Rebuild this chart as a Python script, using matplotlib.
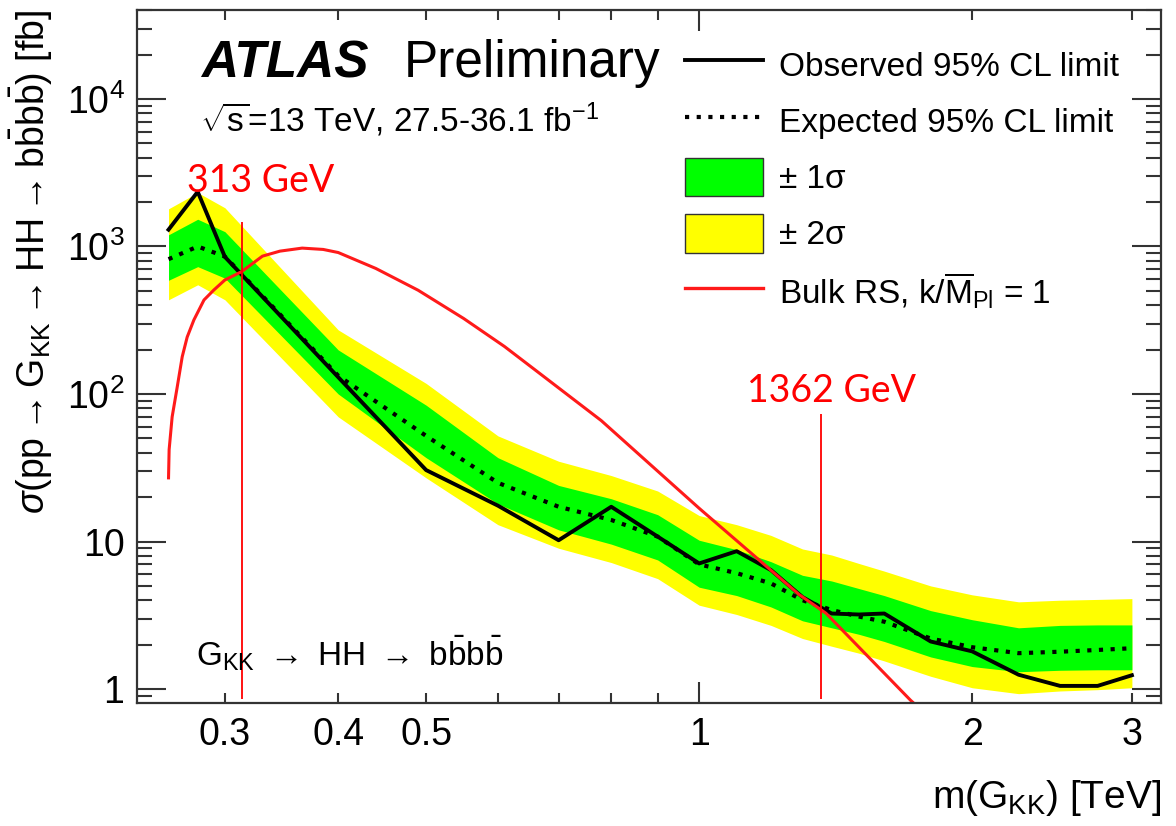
import numpy as np
import matplotlib.pyplot as plt
from matplotlib.lines import Line2D
from matplotlib.patches import Patch
from matplotlib.ticker import FixedLocator, FuncFormatter, NullFormatter

plt.rcParams['font.family'] = ['Liberation Sans', 'DejaVu Sans']
plt.rcParams['mathtext.fontset'] = 'custom'
plt.rcParams['mathtext.rm'] = 'Liberation Sans'
plt.rcParams['mathtext.it'] = 'Liberation Sans:italic'
plt.rcParams['mathtext.bf'] = 'Liberation Sans:bold'

# graviton mass points [TeV]
mass = [0.26, 0.28, 0.30, 0.40, 0.50, 0.60, 0.70, 0.80, 0.90, 1.00, 1.10,
        1.20, 1.30, 1.40, 1.50, 1.60, 1.80, 2.00, 2.25, 2.50, 2.75, 3.00]
observed = [1300, 2350, 850, 130, 30.5, 17.5, 10.2, 17.2, 10.8, 7.1, 8.6,
            6.4, 4.2, 3.25, 3.2, 3.25, 2.1, 1.8, 1.25, 1.05, 1.05, 1.24]
expected = [820, 1000, 855, 133, 52, 25, 17.2, 14.0, 10.8, 7.0, 6.1,
            5.2, 4.0, 3.43, 3.1, 2.86, 2.2, 1.92, 1.75, 1.79, 1.84, 1.89]
sig1_dn = [590, 730, 610, 100, 37, 18, 12, 9.6, 7.5, 4.9, 4.3,
           3.6, 2.9, 2.6, 2.35, 2.1, 1.65, 1.42, 1.31, 1.34, 1.35, 1.35]
sig1_up = [1200, 1530, 1260, 199, 84, 37, 24, 19.5, 15.2, 10.2, 8.8,
           7.3, 5.9, 5.4, 4.8, 4.3, 3.4, 2.95, 2.6, 2.7, 2.72, 2.72]
sig2_dn = [435, 550, 435, 70, 27, 13, 9.0, 7.2, 5.6, 3.7, 3.2,
           2.7, 2.2, 1.95, 1.75, 1.55, 1.22, 1.02, 0.93, 0.97, 0.99, 1.02]
sig2_up = [1800, 2320, 1830, 272, 118, 52, 35, 28, 22, 15, 13,
           11, 8.9, 8.1, 7.1, 6.3, 5.0, 4.35, 3.9, 4.0, 4.05, 4.1]

# Bulk RS theory curve, k/M_Pl = 1
rs_mass = [0.26, 0.2604, 0.2624, 0.2657, 0.2692, 0.2726, 0.2773, 0.2845,
           0.2917, 0.30, 0.313, 0.33, 0.345, 0.365, 0.385, 0.40, 0.44,
           0.49, 0.55, 0.61, 0.66, 0.78, 0.90, 1.00, 1.29, 1.38, 1.71, 1.80]
rs_xsec = [27, 42, 70, 110, 179, 243, 318, 434, 507, 593, 675, 860, 930,
           975, 955, 910, 710, 505, 325, 210, 145, 66, 30, 16.8, 4.35, 3.26,
           0.84, 0.63]

# red markers: crossing points
excl_mass = [0.313, 1.362]
excl_top = [1470, 73]
excl_text_pos = [(0.2726, 2340), (1.129, 88)]

fig = plt.figure(figsize=(11.76, 8.26), dpi=100)
ax = fig.add_axes([137 / 1176, 1 - 703 / 826, 1024 / 1176, 693 / 826])

ax.fill_between(mass, sig2_dn, sig2_up, color='#ffff00', lw=0)
ax.fill_between(mass, sig1_dn, sig1_up, color='#00ff00', lw=0)
ax.plot(mass, expected, color='black', lw=3, ls=(0, (1, 1.8)))
ax.plot(mass, observed, color='black', lw=2.8)
ax.plot(rs_mass, rs_xsec, color='#ff1a1a', lw=2.2)
ax.vlines(excl_mass, 0.85, excl_top, color='red', lw=1.3)
for m, (tx, ty) in zip(excl_mass, excl_text_pos):
    ax.text(tx, ty, f"{m * 1000:.0f} GeV", color='red', fontsize=27,
            family='Lato', va='baseline', ha='left')

ax.set_xscale('log')
ax.set_yscale('log')
ax.set_xlim(0.240, 3.23)
ax.set_ylim(0.804, 40100)

# ROOT style ticks
ax.xaxis.set_major_locator(FixedLocator([1]))
ax.xaxis.set_minor_locator(FixedLocator([0.3, 0.4, 0.5, 0.6, 0.7, 0.8, 0.9, 2, 3]))
ax.xaxis.set_major_formatter(FuncFormatter(lambda v, p: "1"))
ax.xaxis.set_minor_formatter(
    FuncFormatter(lambda v, p: f"{v:g}" if v in (0.3, 0.4, 0.5, 2, 3) else ""))
ydec = [1, 10, 100, 1000, 10000]
ax.yaxis.set_major_locator(FixedLocator(ydec))
ax.yaxis.set_minor_locator(FixedLocator(
    [d * k for d in [0.1] + ydec for k in range(2, 10)]))
ax.yaxis.set_major_formatter(FuncFormatter(
    lambda v, p: {1: "1", 10: "10"}.get(int(round(v)), f"$10^{{{int(round(np.log10(v)))}}}$")))
ax.yaxis.set_minor_formatter(NullFormatter())

ax.tick_params(which='both', direction='in', top=True, right=True,
               width=1.5, color='#333333', labelsize=27)
ax.tick_params(axis='x', which='major', length=15, pad=10)
ax.tick_params(axis='x', which='minor', length=7, pad=10)
ax.tick_params(axis='y', which='major', length=21, pad=9)
ax.tick_params(axis='y', which='minor', length=11, pad=9)
for s in ax.spines.values():
    s.set_linewidth(1.6)
    s.set_color('#333333')

ax.set_xlabel(r"m(G$_{\mathrm{KK}}$) [TeV]", fontsize=28, loc='right', labelpad=18)
ax.set_ylabel(r"$\sigma(\mathrm{pp}\rightarrow\mathrm{G}_{\mathrm{KK}}\rightarrow"
              r"\mathrm{HH}\rightarrow\mathrm{b\bar{b}b\bar{b}})$ [fb]",
              fontsize=27, loc='top', labelpad=8)

fig.text(201 / 1176, 1 - 77 / 826, "ATLAS", fontsize=37, weight='bold',
         style='italic')
fig.text(404 / 1176, 1 - 77 / 826, "Preliminary", fontsize=37)
fig.text(200 / 1176, 1 - 132 / 826,
         r"$\sqrt{\mathrm{s}}$=13 TeV, 27.5-36.1 fb$^{-1}$", fontsize=24)
ax.text(0.2789, 1.45, r"G$_{\mathrm{KK}}$ $\rightarrow$ HH $\rightarrow$ "
        r"b$\mathrm{\bar{b}}$b$\mathrm{\bar{b}}$", fontsize=24, va='baseline')

handles = [Line2D([], [], color='black', lw=2.8),
           Line2D([], [], color='black', lw=3, ls=(0, (1, 1.8))),
           Patch(facecolor='#00ff00', edgecolor='#333333', lw=1),
           Patch(facecolor='#ffff00', edgecolor='#333333', lw=1),
           Line2D([], [], color='#ff1a1a', lw=2.4)]
labels = ["Observed 95% CL limit", "Expected 95% CL limit", "± 1σ", "± 2σ",
          r"Bulk RS, k/$\overline{\mathrm{M}}_{\mathrm{Pl}}$ = 1"]
fig.legend(handles, labels, loc='upper left',
           bbox_to_anchor=(685 / 1176, 1 - 45 / 826), frameon=False,
           fontsize=24, handlelength=2.34, handleheight=1.42,
           handletextpad=0.48, labelspacing=0.52, borderpad=0,
           borderaxespad=0)

fig.savefig("out.png", dpi=100)
